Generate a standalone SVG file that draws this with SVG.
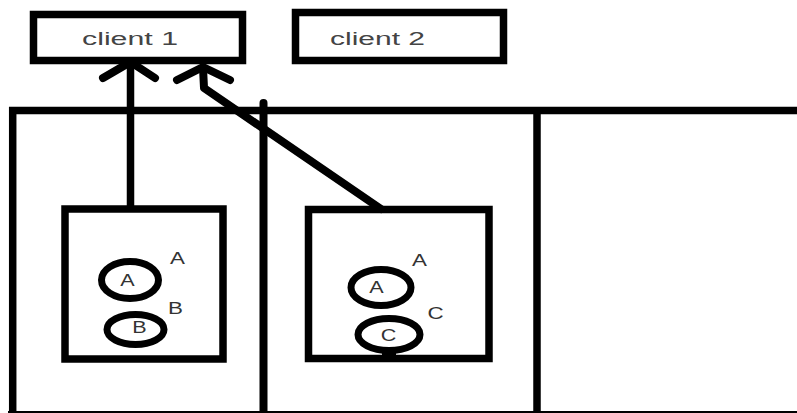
<svg xmlns="http://www.w3.org/2000/svg" width="797" height="413" viewBox="0 0 797 413">
<defs>
<style>
.box{fill:none;stroke:#000;stroke-width:7.5}
.ln{fill:none;stroke:#000;stroke-width:7.5}
.rl{fill:none;stroke:#000;stroke-width:8;stroke-linecap:round;stroke-linejoin:round}
.el{fill:#fff;stroke:#000;stroke-width:7}
.ct{font-family:"Liberation Sans",Arial,sans-serif;font-size:18px;fill:#444}
.lb{font-family:"Liberation Sans",Arial,sans-serif;font-size:16px;fill:#333;text-anchor:middle}
</style>
</defs>
<rect width="797" height="413" fill="#fff"/>
<g id="frame">
<line class="ln" x1="9" y1="110.5" x2="797" y2="110.5"/>
<line class="ln" x1="12.7" y1="107" x2="12.7" y2="413"/>
<line class="rl" x1="263.5" y1="103" x2="263.5" y2="416"/>
<line class="ln" x1="537" y1="110.5" x2="537" y2="413"/>
<line x1="8" y1="412" x2="797" y2="412" stroke="#000" stroke-width="2"/>
</g>
<g id="client1">
<rect class="box" x="33.5" y="14.5" width="209" height="46"/>
<text class="ct" x="82" y="45" textLength="96" lengthAdjust="spacingAndGlyphs">client 1</text>
</g>
<g id="client2">
<rect class="box" x="295.5" y="12.5" width="208" height="48"/>
<text class="ct" x="330" y="45" textLength="95" lengthAdjust="spacingAndGlyphs">client 2</text>
</g>
<g id="box1">
<rect class="box" x="65" y="209" width="158" height="150"/>
<ellipse class="el" cx="130" cy="280" rx="28.5" ry="18.5"/>
<ellipse class="el" cx="135.5" cy="329.5" rx="28.5" ry="15"/>
<text class="lb" transform="translate(127.5,285.5) scale(1.35,1)">A</text>
<text class="lb" transform="translate(139.5,333) scale(1.35,1)">B</text>
<text class="lb" transform="translate(177.5,263.5) scale(1.4,1)">A</text>
<text class="lb" transform="translate(175.5,313.5) scale(1.4,1)">B</text>
</g>
<g id="box2">
<rect class="box" x="308.5" y="209.5" width="180.5" height="149"/>
<ellipse class="el" cx="381" cy="287.5" rx="30" ry="18"/>
<ellipse class="el" cx="389" cy="334.5" rx="31" ry="16"/>
<rect x="382" y="349" width="14" height="7" fill="#000"/>
<text class="lb" transform="translate(376.5,292.5) scale(1.35,1)">A</text>
<text class="lb" transform="translate(388.5,340.5) scale(1.35,1)">C</text>
<text class="lb" transform="translate(419.5,265.5) scale(1.4,1)">A</text>
<text class="lb" transform="translate(435.5,318.5) scale(1.4,1)">C</text>
</g>
<g id="connectors">
<polyline class="ln" points="130.5,209 130.5,61"/>
<polyline class="rl" points="103,78 130.5,62 155,78"/>
<polyline class="rl" points="381,209 204,88 203,68"/>
<polyline class="rl" points="177,80 203,67 230,80"/>
</g>
</svg>
